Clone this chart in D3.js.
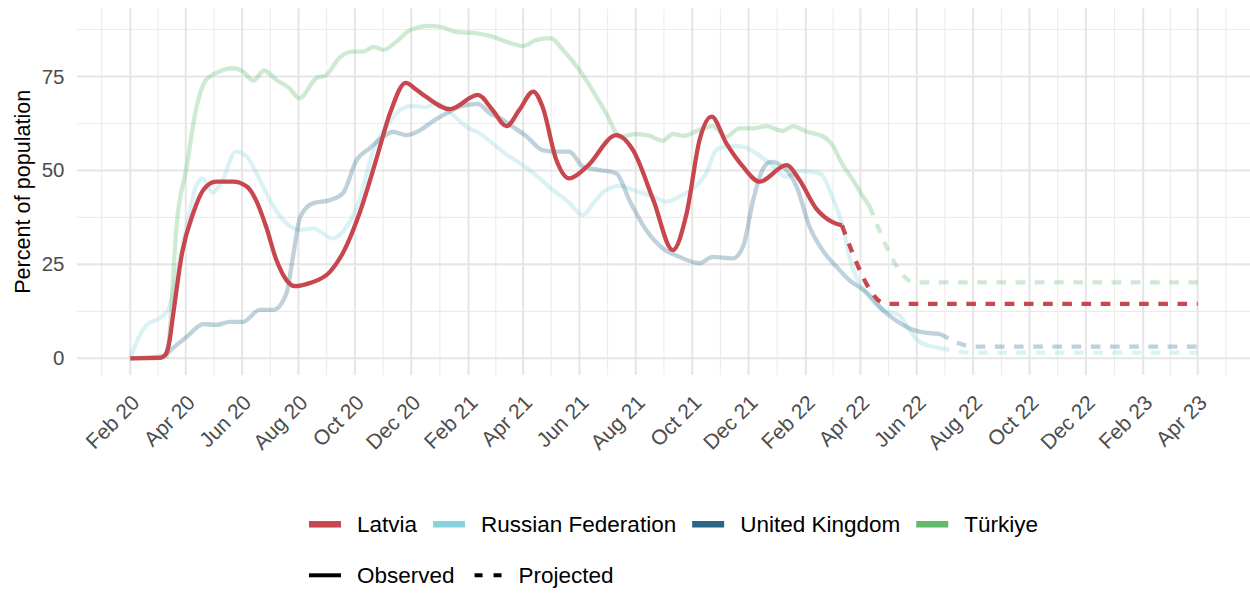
<!DOCTYPE html>
<html>
<head>
<meta charset="utf-8">
<script src="https://cdn.jsdelivr.net/npm/d3@7"></script>
<style>
  body { margin: 0; background: #fff; }
  svg text { font-family: "Liberation Sans", Arial, Helvetica, sans-serif; }
</style>
</head>
<body>
<svg id="chart" width="1250" height="593"></svg>
<script>
// ---- data ----
const countries = ["Latvia", "Russian Federation", "United Kingdom", "Türkiye"];
const countryColors = ["#c8474f", "#87d4df", "#2b6686", "#61b96c"];
const statusLabels = ["Observed", "Projected"];
const yTicks = [0, 25, 50, 75];
const yMinor = [12.5, 37.5, 62.5, 87.5];

const latviaObserved = [
  ["2020-02-01",0],["2020-03-04",0.1],["2020-03-10",1],["2020-03-14",4],["2020-03-18",11],["2020-03-28",28],["2020-04-09",38.6],
  ["2020-04-20",44.8],["2020-05-04",47],["2020-05-22",47],["2020-06-06",45.7],["2020-06-16",42.1],
  ["2020-06-27",35],["2020-07-08",26.2],["2020-07-19",20.8],["2020-07-28",19.2],["2020-08-13",20],
  ["2020-09-04",23],["2020-09-18",28],["2020-10-06",38.6],["2020-10-24",52.8],["2020-11-08",65.2],
  ["2020-11-25",73.3],["2020-12-07",71.4],["2020-12-17",69.6],["2021-01-12",66.3],["2021-02-11",70.1],
  ["2021-02-27",66.1],["2021-03-14",61.8],["2021-03-28",66.1],["2021-04-12",71],["2021-04-22",67],
  ["2021-05-07",52.8],["2021-05-21",47.9],["2021-06-09",51],["2021-07-11",59.4],["2021-07-29",55.4],
  ["2021-08-20",42.1],["2021-09-10",28.8],["2021-09-25",38.6],["2021-10-09",58.1],["2021-10-22",64.3],
  ["2021-11-07",57.2],["2021-11-25",51],["2021-12-13",47],["2022-01-11",51.4],["2022-01-25",47.5],
  ["2022-02-12",39.9],["2022-03-03",36.1],["2022-03-12",35.4]
];
const latviaProjected = [["2022-03-12",35.4],["2022-04-29",14.5],["2023-04-01",14.5]];

const russiaObserved = [
  ["2020-02-01",0],["2020-02-10",5.5],["2020-02-19",8.9],["2020-03-04",10.7],["2020-03-13",12.9],
  ["2020-03-22",22],["2020-04-02",35],["2020-04-12",45.7],["2020-04-19",47.9],["2020-04-30",44.1],
  ["2020-05-11",47.5],["2020-05-25",55],["2020-06-06",53.7],["2020-06-20",47.5],["2020-07-05",40.4],
  ["2020-07-19",35.9],["2020-08-03",34.2],["2020-08-17",34.6],["2020-09-07",31.9],["2020-09-22",35],
  ["2020-10-06",42.1],["2020-10-21",55.4],["2020-11-04",61.6],["2020-11-19",66.1],["2020-12-03",67.2],
  ["2020-12-17",66.8],["2020-12-28",67.9],["2021-01-15",64.8],["2021-01-30",61.6],["2021-02-13",59.9],
  ["2021-02-27",57.2],["2021-03-17",53.7],["2021-04-01",51.4],["2021-04-19",47.9],["2021-05-03",44.8],
  ["2021-05-18",42.1],["2021-06-05",38.1],["2021-06-16",41.3],["2021-06-30",44.8],["2021-07-15",45.9],
  ["2021-07-29",44.8],["2021-08-20",43],["2021-09-03",41.7],["2021-09-17",43],["2021-10-02",45.2],
  ["2021-10-16",49.2],["2021-10-27",55.4],["2021-11-10",56.5],["2021-11-25",56.3],["2021-12-09",54.6],
  ["2021-12-24",51.9],["2022-01-11",48.3],["2022-01-25",49.9],["2022-02-16",49.2],["2022-03-03",42.1],
  ["2022-03-13",35],["2022-03-20",27],["2022-03-29",20.8],["2022-04-07",17.3],["2022-04-25",12.9],
  ["2022-05-13",11.5],["2022-05-24",7.5],["2022-06-04",4.4],["2022-06-18",3.1],["2022-06-26",2.7]
];
const russiaProjected = [["2022-06-26",2.7],["2022-08-01",1.5],["2023-04-01",1.5]];

const ukObserved = [
  ["2020-02-01",0],["2020-03-08",0.6],["2020-03-18",2.7],["2020-04-02",5.7],["2020-04-20",9.1],
  ["2020-05-04",8.9],["2020-05-19",9.7],["2020-06-02",9.7],["2020-06-20",12.9],["2020-07-05",12.9],
  ["2020-07-19",17.3],["2020-07-26",27],["2020-08-03",37.7],["2020-08-17",41.3],["2020-09-04",42.1],
  ["2020-09-18",43.9],["2020-10-03",52.8],["2020-10-17",55.9],["2020-11-01",59],["2020-11-11",60.3],
  ["2020-11-26",59.4],["2020-12-10",60.6],["2020-12-25",63.2],["2021-01-08",65.2],["2021-01-23",67],
  ["2021-02-11",67.7],["2021-02-24",65.2],["2021-03-07",63.9],["2021-03-21",61.6],["2021-04-05",59],
  ["2021-04-22",55.4],["2021-05-07",55],["2021-05-21",55],["2021-06-05",51],["2021-06-23",50.1],
  ["2021-07-11",49.2],["2021-07-25",42.1],["2021-08-12",34.2],["2021-08-30",29.3],["2021-09-17",27],
  ["2021-10-09",25.3],["2021-10-23",27],["2021-11-14",26.6],["2021-11-25",29.7],["2021-12-06",42.1],
  ["2021-12-16",50.1],["2021-12-25",52.3],["2022-01-07",51],["2022-01-22",45.7],["2022-02-05",35],
  ["2022-02-19",28.8],["2022-03-06",24.4],["2022-03-20",20.8],["2022-04-07",17.7],["2022-04-29",12],
  ["2022-05-17",8.9],["2022-06-04",7.1],["2022-06-26",6.5]
];
const ukProjected = [["2022-06-26",6.5],["2022-08-03",3.1],["2023-04-01",3.1]];

const turkiyeObserved = [
  ["2020-03-11",0],["2020-03-15",8],["2020-03-18",20],["2020-03-22",35],["2020-04-02",51],
  ["2020-04-12",66.1],["2020-04-23",74.1],["2020-05-07",76.3],["2020-05-22",77.2],["2020-06-02",76.3],
  ["2020-06-13",73.9],["2020-06-25",76.6],["2020-07-08",74.1],["2020-07-22",71.9],["2020-08-02",69.2],
  ["2020-08-20",74.5],["2020-08-31",75.4],["2020-09-14",79.9],["2020-09-29",81.6],["2020-10-10",81.6],
  ["2020-10-21",82.9],["2020-11-01",82.1],["2020-11-15",84.3],["2020-11-30",87.4],["2020-12-21",88.5],
  ["2021-01-04",88.1],["2021-01-18",86.9],["2021-02-10",86.5],["2021-02-27",85.6],["2021-03-17",84],
  ["2021-04-01",83.1],["2021-04-15",84.7],["2021-05-01",85.2],["2021-05-14",82.1],["2021-06-01",76.7],
  ["2021-06-15",71.4],["2021-06-30",65.2],["2021-07-15",59],["2021-08-02",59.7],["2021-08-16",59.2],
  ["2021-08-30",57.9],["2021-09-10",59.7],["2021-09-21",59.2],["2021-10-09",60.8],["2021-10-23",61.8],
  ["2021-11-07",59],["2021-11-21",61.2],["2021-12-06",61.2],["2021-12-20",61.8],["2022-01-07",60.5],
  ["2022-01-18",61.8],["2022-02-02",60.3],["2022-02-20",59],["2022-03-03",56.3],["2022-03-10",52.8],
  ["2022-03-25",47],["2022-04-04",43],["2022-04-11",40.5]
];
const turkiyeProjected = [["2022-04-11",40.5],["2022-05-30",20.2],["2023-04-01",20.2]];

const observedByCountry = [latviaObserved, russiaObserved, ukObserved, turkiyeObserved];
const projectedByCountry = [latviaProjected, russiaProjected, ukProjected, turkiyeProjected];

// ---- layout ----
const panel = {left: 77, right: 1250, top: 8.5, bottom: 375};
const parse = d3.timeParse("%Y-%m-%d");
const firstDate = parse("2020-02-01"), lastDate = parse("2023-04-01");

const svg = d3.select("#chart");

const x = d3.scaleTime().domain([firstDate, lastDate]).range([130.3, 1197.7]);
const y = d3.scaleLinear().domain([0, 75]).range([358.3, 76.5]);

// month ticks every two months, minor halfway between
const xMajor = d3.timeMonth.range(firstDate, d3.timeDay.offset(lastDate, 1), 2);
const xMinor = [];
xMajor.forEach((d, i) => {
  const prev = i > 0 ? xMajor[i - 1] : d3.timeMonth.offset(d, -2);
  xMinor.push(new Date((prev.getTime() + d.getTime()) / 2));
});
const lastMajor = xMajor[xMajor.length - 1];
xMinor.push(new Date((lastMajor.getTime() + d3.timeMonth.offset(lastMajor, 2).getTime()) / 2));

const grid = svg.append("g");
grid.selectAll(".ymin").data(yMinor).join("line")
  .attr("x1", panel.left).attr("x2", panel.right)
  .attr("y1", d => y(d)).attr("y2", d => y(d))
  .attr("stroke", "#ececec").attr("stroke-width", 1.1);
grid.selectAll(".xmin").data(xMinor.filter(d => x(d) > panel.left && x(d) < panel.right)).join("line")
  .attr("x1", d => x(d)).attr("x2", d => x(d))
  .attr("y1", panel.top).attr("y2", panel.bottom)
  .attr("stroke", "#ececec").attr("stroke-width", 1.1);
grid.selectAll(".ymaj").data(yTicks).join("line")
  .attr("x1", panel.left).attr("x2", panel.right)
  .attr("y1", d => y(d)).attr("y2", d => y(d))
  .attr("stroke", "#e6e6e6").attr("stroke-width", 2.1);
grid.selectAll(".xmaj").data(xMajor).join("line")
  .attr("x1", d => x(d)).attr("x2", d => x(d))
  .attr("y1", panel.top).attr("y2", panel.bottom)
  .attr("stroke", "#e6e6e6").attr("stroke-width", 2.1);

// axes
const fmt = d3.timeFormat("%b %y");
const xAxis = svg.append("g")
  .attr("transform", `translate(0,${panel.bottom})`)
  .call(d3.axisBottom(x).tickValues(xMajor).tickFormat(fmt).tickSize(0));
xAxis.select(".domain").remove();
xAxis.selectAll("text")
  .attr("y", 0).attr("dy", null).attr("x", 0)
  .attr("text-anchor", "end")
  .attr("transform", "translate(10,29) rotate(-45)")
  .attr("font-size", 21).attr("fill", "#4d4d4d")
  .attr("font-family", "Liberation Sans, Arial, sans-serif");

const yAxis = svg.append("g")
  .attr("transform", `translate(${panel.left},0)`)
  .call(d3.axisLeft(y).tickValues(yTicks).tickSize(0).tickPadding(12.5));
yAxis.select(".domain").remove();
yAxis.selectAll("text")
  .attr("font-size", 20.5).attr("fill", "#4d4d4d")
  .attr("font-family", "Liberation Sans, Arial, sans-serif");

svg.append("text")
  .attr("transform", `translate(29.5,${(panel.top + panel.bottom) / 2}) rotate(-90)`)
  .attr("text-anchor", "middle")
  .attr("font-size", 21.6).attr("fill", "#000")
  .text("Percent of population");

// lines
const line = d3.line()
  .x(d => x(parse(d[0])))
  .y(d => y(d[1]))
  .curve(d3.curveMonotoneX);

const drawOrder = [1, 2, 3, 0];
const lines = svg.append("g");
drawOrder.forEach(i => {
  const alpha = i === 0 ? 1 : 0.3;
  lines.append("path")
    .attr("d", line(observedByCountry[i]))
    .attr("fill", "none")
    .attr("stroke", countryColors[i])
    .attr("stroke-opacity", alpha)
    .attr("stroke-width", 4.3)
    .attr("stroke-linejoin", "round");
  lines.append("path")
    .attr("d", line(projectedByCountry[i]))
    .attr("fill", "none")
    .attr("stroke", countryColors[i])
    .attr("stroke-opacity", alpha)
    .attr("stroke-width", 4.3)
    .attr("stroke-dasharray", "9.6,9.6")
    .attr("stroke-linejoin", "round");
});

// legend
const legend = svg.append("g");
let lx = 309;
countries.forEach((c, i) => {
  legend.append("line")
    .attr("x1", lx).attr("x2", lx + 32)
    .attr("y1", 524.3).attr("y2", 524.3)
    .attr("stroke", countryColors[i]).attr("stroke-width", 6.5);
  const t = legend.append("text")
    .attr("x", lx + 48).attr("y", 532.3)
    .attr("font-size", 22.5).attr("fill", "#000")
    .text(c);
  lx = lx + 48 + t.node().getComputedTextLength() + 16;
});

legend.append("line")
  .attr("x1", 309).attr("x2", 341)
  .attr("y1", 575.3).attr("y2", 575.3)
  .attr("stroke", "#000").attr("stroke-width", 4);
const obsText = legend.append("text")
  .attr("x", 357).attr("y", 583.3)
  .attr("font-size", 22.5).attr("fill", "#000")
  .text(statusLabels[0]);
const px = 357 + obsText.node().getComputedTextLength() + 16;
legend.append("line")
  .attr("x1", px + 4).attr("x2", px + 31)
  .attr("y1", 575.3).attr("y2", 575.3)
  .attr("stroke", "#000").attr("stroke-width", 4)
  .attr("stroke-dasharray", "8,11");
legend.append("text")
  .attr("x", px + 48).attr("y", 583.3)
  .attr("font-size", 22.5).attr("fill", "#000")
  .text(statusLabels[1]);
</script>
</body>
</html>
